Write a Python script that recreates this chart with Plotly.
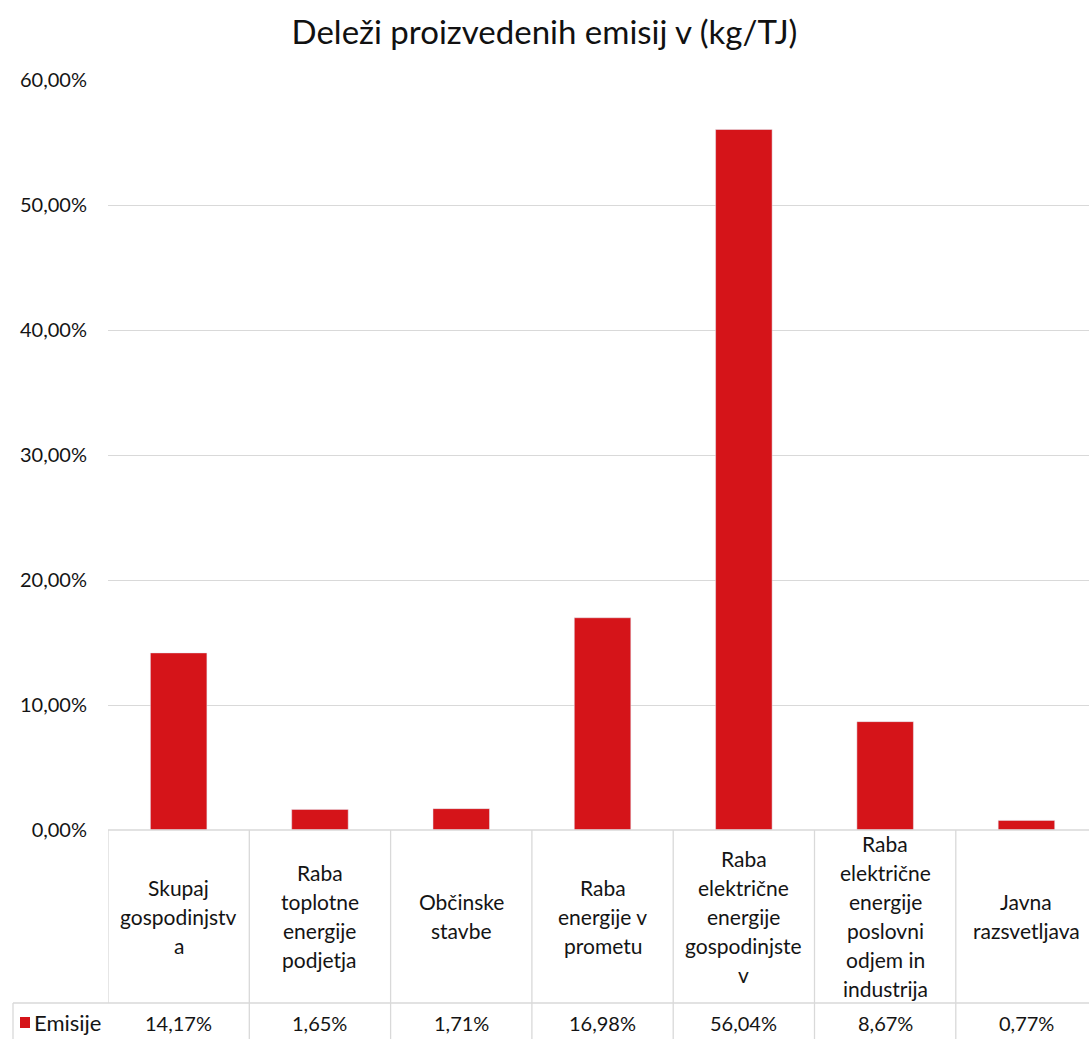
import plotly.graph_objects as go

title = "Deleži proizvedenih emisij v (kg/TJ)"
series_name = "Emisije"
categories = [
    "Skupaj gospodinjstva",
    "Raba toplotne energije podjetja",
    "Občinske stavbe",
    "Raba energije v prometu",
    "Raba električne energije gospodinjstev",
    "Raba električne energije poslovni odjem in industrija",
    "Javna razsvetljava",
]
category_lines = [
    ["Skupaj", "gospodinjstv", "a"],
    ["Raba", "toplotne", "energije", "podjetja"],
    ["Občinske", "stavbe"],
    ["Raba", "energije v", "prometu"],
    ["Raba", "električne", "energije", "gospodinjste", "v"],
    ["Raba", "električne", "energije", "poslovni", "odjem in", "industrija"],
    ["Javna", "razsvetljava"],
]
values = [14.17, 1.65, 1.71, 16.98, 56.04, 8.67, 0.77]
y_ticks = [0, 10, 20, 30, 40, 50, 60]
y_tick_text = [f"{v:.2f}%".replace(".", ",") for v in y_ticks]

W, H = 1089, 1039
TOP, BOTTOM_PX, LEFT = 80, 830, 108
PLOT_H = BOTTOM_PX - TOP
FONT = "Lato"
RED = "#d51419"
GRID = "#d9d9d9"
TXT = "#141414"

def py(pix):
    return (BOTTOM_PX - pix) / PLOT_H

def px(pix):
    return (pix - LEFT) / (W - LEFT)

xs = list(range(len(categories)))

fig = go.Figure()
fig.add_trace(go.Bar(x=xs, y=values, name=series_name, marker_color=RED,
                     width=0.4, showlegend=False, hovertext=categories))

line_style = dict(color=GRID, width=1.3)
shapes = []
shapes.append(dict(type="line", xref="paper", yref="paper", x0=0, x1=1, y0=0, y1=0, line=line_style))
for i in range(len(categories)):
    b = i - 0.5
    shapes.append(dict(type="line", xref="x", yref="paper", x0=b, x1=b, y0=0,
                       y1=py(1003) if i == 0 else py(1045), line=line_style))
shapes.append(dict(type="line", xref="paper", yref="paper", x0=px(13), x1=1,
                   y0=py(1003), y1=py(1003), line=line_style))
shapes.append(dict(type="line", xref="paper", yref="paper", x0=px(13), x1=px(13),
                   y0=py(1003), y1=py(1045), line=line_style))
shapes.append(dict(type="rect", xref="paper", yref="paper", x0=px(20), x1=px(30),
                   y0=py(1028), y1=py(1017), fillcolor=RED, line=dict(width=0)))

annotations = []
LINE_SP = 29
CENTER_PX = 916
for i, lines in enumerate(category_lines):
    n = len(lines)
    for k, ln in enumerate(lines):
        ypix = CENTER_PX + (k - (n - 1) / 2) * LINE_SP
        annotations.append(dict(x=i, y=py(ypix), xref="x", yref="paper", text=ln,
                                showarrow=False, xanchor="center", yanchor="middle",
                                font=dict(family=FONT, size=21, color=TXT)))
    annotations.append(dict(x=i, y=py(1023), xref="x", yref="paper",
                            text=f"{values[i]:.2f}%".replace(".", ","),
                            showarrow=False, xanchor="center", yanchor="middle",
                            font=dict(family=FONT, size=20, color=TXT)))
annotations.append(dict(x=px(32), y=py(1022), xref="paper", yref="paper",
                        text=series_name, showarrow=False, xanchor="left", yanchor="middle",
                        font=dict(family=FONT, size=22, color=TXT)))

fig.update_layout(
    width=W, height=H,
    margin=dict(l=LEFT, r=0, t=TOP, b=H - BOTTOM_PX),
    paper_bgcolor="white", plot_bgcolor="white",
    title=dict(text=title, x=0.5, xref="container", xanchor="center", y=1 - 32 / H,
               yref="container", yanchor="middle",
               font=dict(family=FONT, size=33, color="#111111")),
    xaxis=dict(range=[-0.5, -0.5 + (W - LEFT) / 141.3], showticklabels=False, showgrid=False,
               zeroline=False, showline=False),
    yaxis=dict(range=[0, 60], tickvals=y_ticks, ticktext=y_tick_text,
               showgrid=True, gridcolor=GRID, gridwidth=1.3, zeroline=False, showline=False,
               ticklabelstandoff=20,
               tickfont=dict(family=FONT, size=20, color=TXT)),
    shapes=shapes, annotations=annotations, bargap=0.6,
)

fig.write_html("out.html", config={"displayModeBar": False},
               post_script="document.body.style.margin='0';document.body.style.overflow='hidden';")
